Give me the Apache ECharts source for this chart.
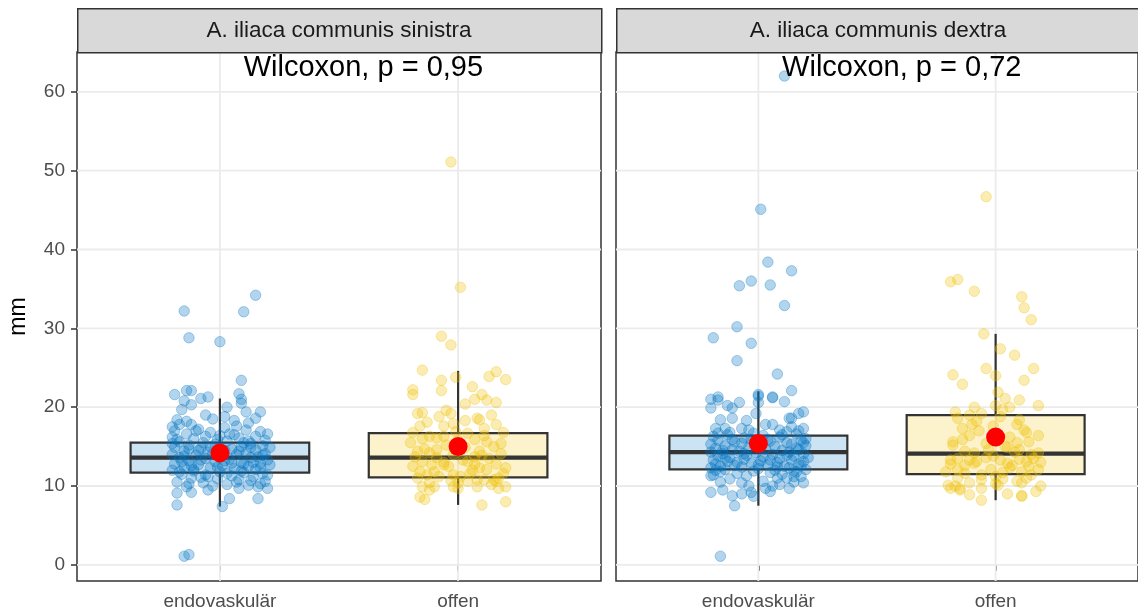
<!DOCTYPE html>
<html>
<head>
<meta charset="utf-8">
<script src="https://cdn.jsdelivr.net/npm/echarts@6/dist/echarts.min.js"></script>
<style>
  html, body { margin: 0; padding: 0; background: #fff; }
  #chart { width: 1138px; height: 614px; }
</style>
</head>
<body>
<div id="chart"></div>
<script>
// ---- data ----
const categories = ['endovaskulär', 'offen'];
const panelTitles = ['A. iliaca communis sinistra', 'A. iliaca communis dextra'];
const testLabels = ['Wilcoxon, p = 0,95', 'Wilcoxon, p = 0,72'];
const yTicks = [0, 10, 20, 30, 40, 50, 60];

// box statistics per category: [lower whisker, Q1, median, Q3, upper whisker]
const boxSinistra = [[7.4, 11.7, 13.6, 15.5, 21.1], [7.6, 11.1, 13.6, 16.7, 24.6]];
const boxDextra   = [[7.5, 12.1, 14.3, 16.4, 22.0], [8.2, 11.5, 14.1, 19.0, 29.3]];
const meanSinistra = [14.2, 15.0];
const meanDextra   = [15.4, 16.2];

// individual measurements: [horizontal jitter (category units), diameter in mm]
const sinEndo = [
  [0.15,34.2],[-0.15,32.2],[0.10,32.1],[-0.13,28.8],[0.00,28.3],[0.09,23.4],
  [-0.19,21.6],[-0.14,22.1],[-0.12,22.1],[-0.15,20.8],[-0.12,20.3],[-0.08,21.1],[-0.05,21.3],[0.08,21.7],[0.09,21.0],[0.09,20.5],[-0.16,19.7],[0.03,20.0],[0.17,19.4],[-0.03,18.5],[0.06,18.3],
  [-0.20,17.5],[-0.17,17.8],[-0.12,17.8],[0.12,18.0],
  [-0.15,1.1],[-0.13,1.3],[-0.18,7.6],[0.01,7.4],[0.16,8.4],[0.20,9.7],[-0.18,9.1],[-0.12,9.2],[0.04,8.4],[-0.05,9.5],[0.08,9.7],
  [-0.19,17.0],[-0.09,17.2],[0.02,17.4],[0.11,17.1],[0.17,16.9],[-0.14,16.6],[-0.04,16.8],[0.06,16.5],[0.15,16.3],[-0.20,16.2],
  [-0.11,16.0],[-0.01,15.9],[0.08,16.1],[0.19,15.8],[-0.17,15.6],[-0.07,15.5],[0.03,15.7],[0.13,15.4],[-0.13,15.2],[0.18,15.1],[-0.02,15.3],[0.09,15.0],[-0.19,14.9],[-0.08,14.8],[0.05,14.7],[0.15,14.6],[0.21,14.9],
  [-0.15,14.4],[-0.05,14.3],[0.02,14.5],[0.11,14.2],[0.19,14.1],[-0.20,14.0],[-0.10,13.9],[0.00,13.8],[0.07,14.0],[0.16,13.7],[-0.17,13.6],[-0.06,13.5],[0.04,13.4],[0.13,13.6],[0.20,13.3],
  [-0.13,13.2],[-0.02,13.1],[0.09,13.0],[0.17,12.9],[-0.19,12.8],[-0.09,12.7],[0.01,12.6],[0.12,12.5],[0.21,12.7],[-0.15,12.4],[-0.04,12.3],[0.06,12.2],[0.15,12.1],[-0.20,12.0],
  [-0.11,11.9],[0.00,11.8],[0.10,11.7],[0.18,11.6],[-0.16,11.5],[-0.06,11.4],[0.05,11.3],[0.14,11.2],[-0.12,11.0],[-0.01,10.9],[0.08,10.8],[0.19,10.6],[-0.18,10.5],[-0.07,10.4],[0.03,10.2],[0.12,10.1],[-0.14,9.9],[0.17,10.3],[-0.03,10.0],
  [-0.18,15.9],[-0.06,16.3],[0.04,16.6],[0.12,15.7],[-0.13,14.7],[-0.03,14.1],[0.08,14.4],[0.18,13.9],[-0.16,13.1],[-0.08,13.3],[0.05,12.9],[0.14,13.0],[-0.11,12.1],[-0.01,12.4],[0.09,11.9],[0.20,11.4],
  [-0.17,11.8],[-0.08,11.1],[0.03,11.6],[0.13,10.7],[-0.13,10.3],[0.07,10.5],[0.16,9.9],[-0.04,15.0],[0.10,15.5],[-0.20,15.4],[0.00,16.4],[-0.10,17.0],[0.07,17.6],[0.20,16.6],
  [-0.14,18.2],[0.15,18.6],[-0.06,19.0],[0.02,18.8],[-0.18,18.4],[0.11,19.4],[-0.09,14.5],[0.13,14.9],[-0.15,13.8],[0.02,13.2],[0.17,12.3],[-0.05,11.2],[0.10,12.8],[-0.12,12.6]
];
const sinOffen = [
  [-0.03,51.1],[0.01,35.2],[-0.07,29.0],[-0.03,27.9],[-0.15,24.7],[0.16,24.5],[0.13,23.9],[0.20,23.5],[-0.07,23.4],[-0.01,23.8],[0.06,22.6],[-0.19,22.2],[-0.19,21.6],[-0.07,22.1],
  [0.07,21.0],[0.10,21.6],[0.03,20.4],[0.16,20.6],[-0.17,19.2],[-0.15,19.3],[-0.05,19.6],[-0.03,19.2],[0.08,18.6],[0.12,20.9],[0.09,18.4],[0.16,17.8],[-0.16,17.6],[-0.06,17.6],[-0.02,17.9],
  [-0.19,16.8],[0.04,16.7],[-0.12,16.3],[-0.09,16.1],[-0.06,16.3],[0.11,16.4],[0.12,15.6],[0.18,15.4],[-0.14,14.7],[-0.09,14.6],[0.09,14.4],[0.07,13.7],[0.18,14.1],[-0.18,13.7],[-0.15,13.1],
  [-0.11,12.7],[-0.06,12.7],[0.02,13.3],[0.04,13.1],[0.09,12.3],[0.12,12.1],[0.20,12.3],[0.19,11.6],[-0.16,11.8],[-0.13,11.4],[-0.10,11.8],[-0.08,11.2],[-0.02,11.4],[0.01,11.2],
  [0.04,10.6],[0.08,10.8],[0.11,10.8],[0.15,10.8],[0.17,11.0],[-0.17,11.0],[-0.15,9.9],
  [0.10,7.6],[0.20,8.0],[-0.16,8.6],[-0.14,8.3],[0.00,9.7],[0.00,10.4],[-0.12,9.5],[-0.10,9.9],[0.08,9.9],[0.17,9.7],[0.20,9.9],[-0.02,9.9],[0.16,10.6],
  [-0.20,15.5],[-0.05,15.2],[0.03,14.9],[0.15,15.0],[-0.12,14.2],[-0.02,14.0],[0.13,13.5],[-0.19,12.5],[0.06,12.0],[-0.04,12.5],[0.16,12.8],[-0.09,13.6],[0.00,15.8],[-0.15,16.0],
  [0.07,15.9],[0.19,16.8],[-0.01,16.9],[0.11,17.3],[-0.13,18.1],[0.03,18.3],[-0.08,18.8],[0.14,19.0],[-0.17,14.4],[0.10,13.9],[-0.06,13.0],[0.05,11.6],[-0.12,10.4],[0.14,10.2],[-0.03,10.7],[0.07,12.8]
];
const dexEndo = [
  [0.11,62.0],[0.01,45.1],[0.04,38.4],[0.14,37.3],[-0.08,35.4],[-0.03,36.0],[0.05,35.5],[0.11,32.9],[-0.09,30.2],[-0.19,28.8],[-0.03,28.1],[-0.09,25.9],[0.08,24.2],[0.14,22.1],[0.00,21.6],[0.06,21.2],[0.11,20.7],
  [-0.20,21.0],[-0.17,21.3],[-0.17,20.9],[-0.20,19.9],[-0.13,20.2],[-0.11,19.9],[-0.08,20.6],[0.00,21.4],[0.00,20.6],[0.06,21.3],[-0.01,19.2],[0.17,19.2],[0.19,19.4],[0.14,18.6],[-0.16,18.4],[-0.11,18.6],[-0.05,18.3],[0.13,18.6],
  [-0.18,17.3],[-0.14,17.3],[-0.07,17.3],[-0.04,17.1],[0.03,17.8],[0.06,17.8],[0.09,17.1],[0.14,17.5],[0.17,17.0],[0.19,17.3],
  [-0.16,1.1],[-0.10,7.5],[-0.20,9.2],[-0.15,9.5],[-0.11,8.75],[-0.07,9.0],[-0.03,9.2],[-0.02,8.7],[0.03,9.7],[0.05,9.3],[0.13,9.7],[0.19,10.4],[0.18,11.2],[-0.20,11.3],[0.12,11.0],[0.15,11.2],[0.08,11.0],[-0.16,10.5],[-0.19,11.4],
  [-0.19,16.3],[-0.13,16.5],[-0.06,16.1],[0.02,16.4],[0.09,16.2],[0.16,16.6],[0.20,16.0],
  [-0.17,15.8],[-0.10,15.6],[-0.03,15.9],[0.05,15.7],[0.12,15.5],[0.18,15.8],
  [-0.20,15.3],[-0.14,15.1],[-0.07,15.4],[0.00,15.2],[0.07,15.0],[0.14,15.3],[0.20,15.1],
  [-0.18,14.8],[-0.11,14.6],[-0.04,14.9],[0.03,14.7],[0.10,14.5],[0.16,14.8],
  [-0.20,14.3],[-0.15,14.1],[-0.08,14.4],[-0.01,14.2],[0.06,14.0],[0.13,14.3],[0.19,14.1],
  [-0.17,13.8],[-0.12,13.6],[-0.05,13.9],[0.02,13.7],[0.09,13.5],[0.15,13.8],[0.21,13.6],
  [-0.19,13.3],[-0.13,13.1],[-0.06,13.4],[0.01,13.2],[0.08,13.0],[0.14,13.3],[0.19,13.1],
  [-0.18,12.8],[-0.10,12.6],[-0.03,12.9],[0.04,12.7],[0.11,12.5],[0.17,12.8],
  [-0.20,12.3],[-0.14,12.1],[-0.07,12.4],[0.00,12.2],[0.07,12.0],[0.13,12.3],[0.20,12.1],
  [-0.16,11.8],[-0.09,11.6],[-0.02,11.9],[0.05,11.7],[0.10,11.5],[0.16,11.8],
  [-0.12,16.8],[-0.02,16.7],[0.12,16.9],[-0.15,14.5],[0.17,14.6],[-0.09,13.0],[0.05,13.3],[-0.16,12.5],[0.18,12.6],[-0.05,11.3],[0.02,10.6],[-0.12,10.9],[0.09,10.2],[-0.04,10.0],[0.15,10.5],
  [-0.11,15.9],[0.04,15.9],[0.10,16.5],[-0.17,16.7],[0.19,15.5],[-0.06,14.1],[0.12,13.9],[-0.14,13.5],[0.00,12.7],[0.08,12.4],[-0.18,12.0],[0.15,11.9],[-0.07,10.4],[0.06,10.0]
];
const dexOffen = [
  [-0.04,46.7],[-0.19,35.9],[-0.16,36.2],[-0.09,34.7],[0.11,34.0],[0.12,32.6],[0.15,31.1],[-0.05,29.3],[0.02,27.4],[0.08,26.6],
  [-0.18,24.1],[-0.14,22.9],[-0.04,24.9],[0.00,24.0],[0.16,24.9],[0.12,23.4],
  [0.01,21.9],[0.04,21.1],[0.10,20.9],[0.18,20.2],[-0.09,20.0],[-0.06,19.2],[0.00,20.2],[0.03,19.7],[0.06,20.0],
  [-0.17,19.4],[-0.16,18.6],[-0.11,19.0],[-0.08,18.2],[0.10,18.4],[0.09,17.8],[0.12,17.1],[-0.14,17.3],[-0.07,17.0],
  [-0.11,16.4],[-0.04,15.4],[0.14,15.6],[0.18,16.4],[0.13,16.8],[-0.18,15.6],[-0.18,15.2],[0.05,14.9],[0.04,15.0],
  [-0.13,14.4],[-0.09,14.2],[-0.03,14.6],[0.10,14.6],[0.15,14.0],[0.18,14.2],
  [-0.19,13.3],[-0.16,13.5],[-0.11,13.3],[-0.08,13.1],[0.02,13.3],[0.05,12.9],[0.10,13.4],[0.13,13.1],[0.16,13.5],
  [-0.21,11.8],[-0.16,12.1],[-0.13,11.6],[-0.06,11.4],[-0.02,12.1],[0.03,11.7],[0.06,12.3],[0.11,11.8],[0.15,11.4],[0.18,12.1],
  [-0.20,10.1],[-0.15,9.7],[-0.11,10.4],[-0.06,9.7],[0.01,10.1],[0.05,9.0],[0.11,10.4],[0.11,8.7],[0.17,9.3],[0.19,10.0],
  [-0.06,8.2],[-0.16,11.0],[-0.06,10.8],[0.03,10.9],[0.13,11.0],
  [-0.11,8.9],[-0.19,9.7],[-0.17,10.0],[0.11,8.8],[-0.15,9.5],[0.00,10.3],[0.09,10.6],
  [-0.13,12.6],[0.07,12.6],[-0.01,13.8],[0.14,12.5],[-0.19,12.8],[0.19,13.0],[0.00,11.2],[-0.09,12.9],[0.08,14.3],[-0.04,13.6],
  [-0.01,17.6],[0.06,16.2],[-0.14,15.9],[0.09,15.5],[0.02,18.8],[-0.10,17.8]
];

// ---- styling ----
const FONT = '"Liberation Sans", Arial, sans-serif';
const groupColors = ['0,115,194', '239,192,0'];
const panelLeft = [77, 616];
const panelTop = 52, panelWidth = 524, panelHeight = 529, stripTop = 8;
const yMin = -2.05, yMax = 65.05;

const panels = [
  { box: boxSinistra, mean: meanSinistra, points: [sinEndo, sinOffen] },
  { box: boxDextra,   mean: meanDextra,   points: [dexEndo, dexOffen] }
];

const grids = [], xAxes = [], yAxes = [], series = [], graphics = [];

panels.forEach((panel, p) => {
  grids.push({
    left: panelLeft[p], top: panelTop, width: panelWidth, height: panelHeight,
    show: true, backgroundColor: '#fff', borderColor: '#333333', borderWidth: 1.5
  });
  xAxes.push({
    gridIndex: p, type: 'value', min: 0.4, max: 2.6,
    axisLine: { show: false },
    axisTick: { show: true, customValues: [1, 2], length: 6, lineStyle: { color: '#333333', width: 1.5 } },
    axisLabel: {
      customValues: [1, 2], formatter: v => categories[Math.round(v) - 1],
      color: '#4D4D4D', fontSize: 19, fontFamily: FONT, margin: 11
    },
    splitLine: { show: false }
  });
  yAxes.push({
    gridIndex: p, type: 'value', min: yMin, max: yMax,
    name: p === 0 ? 'mm' : '', nameLocation: 'middle', nameGap: 47, nameRotate: 90,
    nameTextStyle: { fontSize: 23, color: '#000', fontFamily: FONT },
    axisLine: { show: false },
    axisTick: { show: p === 0, customValues: yTicks, length: 6, lineStyle: { color: '#333333', width: 1.5 } },
    axisLabel: {
      show: p === 0, customValues: yTicks, color: '#4D4D4D', fontSize: 19, fontFamily: FONT, margin: 12
    },
    splitLine: { show: false }
  });

  // major grid lines, drawn beneath everything else in the panel
  series.push({
    type: 'custom', xAxisIndex: p, yAxisIndex: p, z: 1, silent: true,
    data: [[1, 0]],
    renderItem: (params, api) => {
      const cs = params.coordSys;
      const lines = [];
      yTicks.forEach(v => {
        const y = api.coord([1, v])[1];
        lines.push({ type: 'line', shape: { x1: cs.x, y1: y, x2: cs.x + cs.width, y2: y },
          style: { stroke: '#EBEBEB', lineWidth: 1.8 } });
      });
      categories.forEach((c, i) => {
        const x = api.coord([i + 1, 0])[0];
        lines.push({ type: 'line', shape: { x1: x, y1: cs.y, x2: x, y2: cs.y + cs.height },
          style: { stroke: '#EBEBEB', lineWidth: 1.8 } });
      });
      return { type: 'group', children: lines };
    }
  });

  // boxes with whiskers
  series.push({
    type: 'custom', xAxisIndex: p, yAxisIndex: p, z: 2, silent: true,
    data: panel.box.map((b, i) => [i + 1].concat(b)),
    encode: { x: 0, y: [1, 2, 3, 4, 5] },
    renderItem: (params, api) => {
      const x = api.value(0);
      const half = 0.375;
      const c = api.coord([x, api.value(3)]);
      const xl = api.coord([x - half, 0])[0];
      const xr = api.coord([x + half, 0])[0];
      const yLow = api.coord([x, api.value(1)])[1];
      const yQ1 = api.coord([x, api.value(2)])[1];
      const yMed = c[1];
      const yQ3 = api.coord([x, api.value(4)])[1];
      const yHigh = api.coord([x, api.value(5)])[1];
      const stroke = { stroke: '#333333', lineWidth: 2.2 };
      return {
        type: 'group',
        children: [
          { type: 'line', shape: { x1: c[0], y1: yLow, x2: c[0], y2: yQ1 }, style: stroke },
          { type: 'line', shape: { x1: c[0], y1: yQ3, x2: c[0], y2: yHigh }, style: stroke },
          { type: 'rect', shape: { x: xl, y: yQ3, width: xr - xl, height: yQ1 - yQ3 },
            style: { fill: 'rgba(' + groupColors[params.dataIndex] + ',0.2)', stroke: '#333333', lineWidth: 2.2 } },
          { type: 'line', shape: { x1: xl, y1: yMed, x2: xr, y2: yMed }, style: { stroke: '#333333', lineWidth: 4.2 } }
        ]
      };
    }
  });

  // jittered measurements
  panel.points.forEach((pts, g) => {
    series.push({
      type: 'scatter', xAxisIndex: p, yAxisIndex: p, z: 3, silent: true,
      symbolSize: 10.5,
      itemStyle: {
        color: 'rgba(' + groupColors[g] + ',0.3)',
        borderColor: 'rgba(' + groupColors[g] + ',0.32)', borderWidth: 1, opacity: 1
      },
      data: pts.map(([o, v]) => [g + 1 + o, v])
    });
  });

  // group means
  series.push({
    type: 'scatter', xAxisIndex: p, yAxisIndex: p, z: 4, silent: true,
    symbolSize: 19, itemStyle: { color: '#FF0000', opacity: 1 },
    data: panel.mean.map((m, i) => [i + 1, m])
  });

  // test annotation
  series.push({
    type: 'custom', xAxisIndex: p, yAxisIndex: p, z: 5, silent: true,
    data: [[1.1, 63.0]],
    renderItem: (params, api) => {
      const pt = api.coord([api.value(0), api.value(1)]);
      return {
        type: 'text', x: pt[0], y: pt[1],
        style: { text: testLabels[p], fontSize: 29, fontFamily: FONT, fill: '#000', align: 'left', verticalAlign: 'middle' }
      };
    }
  });

  // facet strip
  graphics.push({
    type: 'rect', left: panelLeft[p], top: stripTop, z: 10,
    shape: { x: 0, y: 0, width: panelWidth, height: panelTop - stripTop },
    style: { fill: '#D9D9D9', stroke: '#333333', lineWidth: 1.5 }
  });
  graphics.push({
    type: 'text', z: 11,
    x: panelLeft[p] + panelWidth / 2, y: 30.5,
    style: { text: panelTitles[p], fontSize: 22.5, fontFamily: FONT, fill: '#1A1A1A', align: 'center', verticalAlign: 'middle' }
  });
});

const chart = echarts.init(document.getElementById('chart'), null, { renderer: 'canvas' });
chart.setOption({
  animation: false,
  backgroundColor: '#fff',
  grid: grids,
  xAxis: xAxes,
  yAxis: yAxes,
  series: series,
  graphic: graphics
});
</script>
</body>
</html>
